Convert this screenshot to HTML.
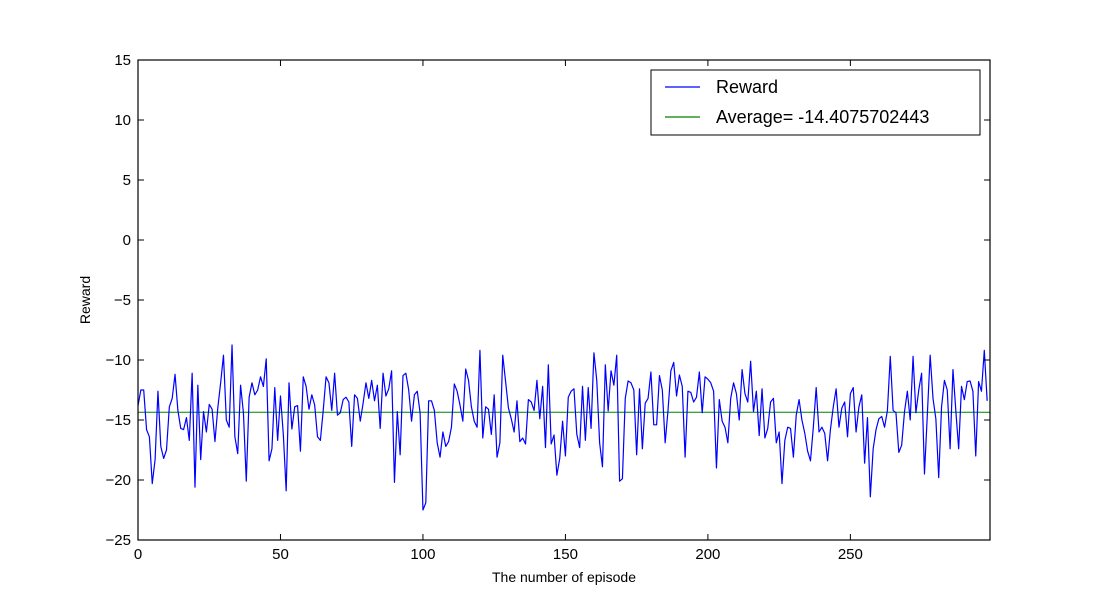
<!DOCTYPE html>
<html><head><meta charset="utf-8"><style>
html,body{margin:0;padding:0;background:#fff;}
svg{display:block;font-family:"Liberation Sans","DejaVu Sans",sans-serif;}
</style></head><body>
<svg id="chart" width="1100" height="600" viewBox="0 0 1100 600"></svg>
<script>
const rewards=[-13.8,-12.5,-12.5,-15.8,-16.4,-20.3,-18.3,-12.6,-17.2,-18.2,-17.5,-13.9,-13.2,-11.2,-14.2,-15.7,-15.8,-14.8,-16.7,-11.1,-20.6,-12.1,-18.3,-14.3,-16.0,-13.7,-14.1,-16.8,-14.0,-11.9,-9.6,-15.0,-15.6,-8.75,-16.4,-17.8,-12.1,-14.4,-20.1,-13.1,-11.9,-12.9,-12.5,-11.4,-12.2,-9.9,-18.4,-17.4,-12.3,-16.7,-13.0,
-16.2,-20.9,-11.9,-15.75,-13.9,-13.8,-17.6,-11.4,-12.2,-14.1,-12.9,-13.75,-16.4,-16.7,-14.2,-11.4,-11.9,-14.2,-11.1,-14.6,-14.4,-13.3,-13.1,-13.5,-17.2,-12.9,-13.2,-15.1,-13.6,-11.9,-13.2,-11.7,-13.4,-12.1,-15.7,-11.1,-13.0,-12.4,-10.9,-20.2,-14.3,-17.9,-11.3,-11.1,-12.5,-15.1,-12.9,-12.6,-14.4,-22.5,
-21.9,-13.4,-13.4,-14.2,-16.9,-18.1,-16.0,-17.2,-16.8,-15.6,-12.0,-12.6,-13.75,-15.1,-10.75,-11.7,-13.9,-15.1,-15.6,-9.2,-16.5,-13.9,-14.1,-16.2,-12.9,-18.1,-16.9,-9.6,-11.8,-14.0,-14.9,-16.0,-13.4,-16.8,-16.5,-17.0,-13.3,-13.5,-14.2,-11.7,-14.9,-12.2,-17.3,-10.4,-17.0,-16.25,-19.6,-18.2,-15.1,
-18.0,-13.1,-12.6,-12.4,-16.2,-17.3,-12.2,-16.7,-12.3,-15.7,-9.4,-11.7,-16.9,-18.9,-10.4,-14.25,-10.9,-12.1,-9.6,-20.1,-19.9,-13.2,-11.75,-11.9,-12.5,-17.9,-12.4,-17.4,-13.6,-13.2,-11.0,-15.4,-15.4,-11.3,-12.5,-16.9,-14.2,-10.9,-10.2,-13.0,-11.25,-12.2,-18.1,-12.6,-12.7,-13.5,-13.1,-11.0,-14.4,-11.4,-11.6,-11.9,
-12.6,-19.0,-13.3,-15.1,-15.6,-16.9,-13.2,-11.9,-12.8,-15.0,-10.8,-12.8,-13.5,-10.1,-14.3,-12.6,-16.3,-12.4,-16.5,-15.7,-13.5,-13.2,-16.9,-16.0,-20.3,-16.7,-15.6,-15.7,-18.1,-14.6,-13.3,-15.0,-16.1,-17.6,-18.4,-15.6,-12.3,-16.0,-15.6,-16.1,-18.4,-15.8,-13.9,-12.4,-15.6,-14.0,-13.5,-16.4,-12.8,
-12.3,-16.0,-13.9,-12.9,-18.6,-14.8,-21.4,-17.4,-15.8,-14.9,-14.7,-15.6,-14.2,-9.7,-14.2,-14.4,-17.7,-17.1,-14.3,-12.6,-15.0,-9.7,-14.4,-12.5,-11.1,-19.5,-14.6,-9.6,-13.2,-14.9,-19.8,-13.9,-11.7,-12.5,-17.4,-10.8,-14.2,-17.4,-12.2,-13.3,-11.8,-11.75,-12.6,-18.0,-11.8,-12.6,-9.2,-13.4];
const xTicks=[0,50,100,150,200,250];
const yTicks=[-25,-20,-15,-10,-5,0,5,10,15];
const legendLabels=["Reward","Average= -14.4075702443"];

const NS="http://www.w3.org/2000/svg";
const svg=document.getElementById('chart');
const L=138,R=990,T=60,B=540,XMAX=299,YMIN=-25,YMAX=15;
const sx=v=>L+(v/XMAX)*(R-L);
const sy=v=>B-(v-YMIN)/(YMAX-YMIN)*(B-T);
function el(tag,attrs,parent){const e=document.createElementNS(NS,tag);for(const k in attrs)e.setAttribute(k,attrs[k]);(parent||svg).appendChild(e);return e;}

const avg=rewards.reduce((a,b)=>a+b,0)/rewards.length;
const avgLine=el('line',{x1:L,x2:R,y1:sy(avg),y2:sy(avg),stroke:'#008000','stroke-width':1});


const pts=rewards.map((v,i)=>sx(i).toFixed(2)+','+sy(v).toFixed(2)).join(' ');
const rl=el('polyline',{points:pts,fill:'none',stroke:'#0000ff','stroke-width':1.2,'stroke-linejoin':'round'});



const frame=el('rect',{x:L,y:T,width:R-L,height:B-T,fill:'none',stroke:'#000','stroke-width':1.2});



xTicks.forEach(t=>{
  const x=sx(t);
  el('line',{x1:x,x2:x,y1:B,y2:B-6,stroke:'#000'});
  el('line',{x1:x,x2:x,y1:T,y2:T+6,stroke:'#000'});
  const tx=el('text',{x:x,y:B+19,'text-anchor':'middle','font-size':15});
  tx.textContent=t;
  
  
});
yTicks.forEach(t=>{
  const y=sy(t);
  el('line',{x1:L,x2:L+6,y1:y,y2:y,stroke:'#000'});
  el('line',{x1:R,x2:R-6,y1:y,y2:y,stroke:'#000'});
  const tx=el('text',{x:L-7,y:y+5,'text-anchor':'end','font-size':15});
  tx.textContent=t<0?'\u2212'+Math.abs(t):t;
  
  
});
const xt=el('text',{x:(L+R)/2,y:582,'text-anchor':'middle','font-size':14});
xt.textContent='The number of episode';


const yt=el('text',{x:90,y:300,'text-anchor':'middle','font-size':14,transform:'rotate(-90 90 300)'});
yt.textContent='Reward';



const lg=el('g',{});


el('rect',{x:651,y:70,width:329,height:65,fill:'#fff',stroke:'#000','stroke-width':1},lg);
const colors=['#0000ff','#008000'];
legendLabels.forEach((lab,i)=>{
  const y=87+i*30;
  const g=el('g',{},lg);
  
  
  el('line',{x1:665,x2:700,y1:y,y2:y,stroke:colors[i],'stroke-width':1.2},g);
  const t=el('text',{x:716,y:y+6,'font-size':18},g);
  t.textContent=lab;
});
</script>
</body></html>
